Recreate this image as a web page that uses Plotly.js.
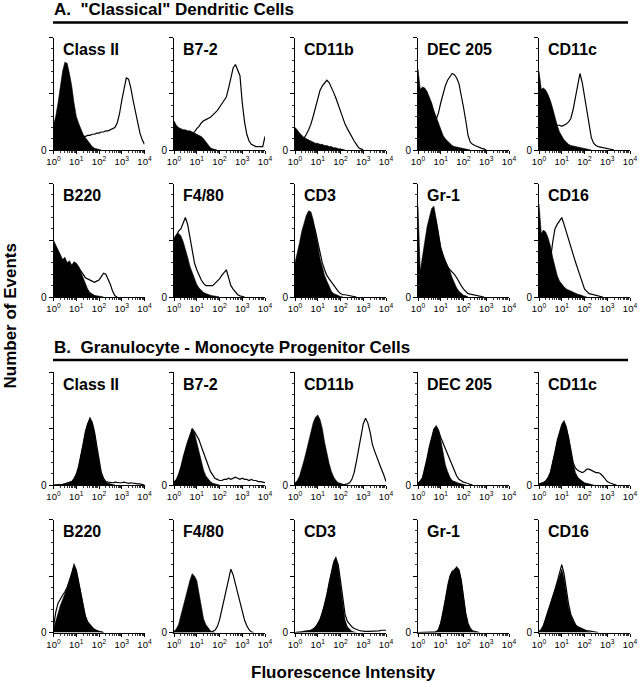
<!DOCTYPE html>
<html><head><meta charset="utf-8">
<script src="https://cdn.plot.ly/plotly-3.0.1.min.js"></script>
<style>html,body{margin:0;padding:0;background:#fff}#chart{width:639px;height:683px}</style>
</head><body><div id="chart"></div>
<script>
// log10 channel exponents (x positions of histogram points)
const exponents = [0,0.1,0.2,0.3,0.4,0.5,0.6,0.7,0.8,0.9,1.0,1.1,1.2,1.3,1.4,1.5,1.6,1.7,1.8,1.9,2.0,2.1,2.2,2.3,2.4,2.5,2.6,2.7,2.8,2.9,3.0,3.1,3.2,3.3,3.4,3.5,3.6,3.7,3.8,3.9,4.0];
const panelLabels = ["Class II","B7-2","CD11b","DEC 205","CD11c","B220","F4/80","CD3","Gr-1","CD16"];
const sectionTitles = ["A.\u00A0 \"Classical\" Dendritic Cells","B.\u00A0 Granulocyte - Monocyte Progenitor Cells"];
const xTickValues = [1,10,100,1000,10000];
const xTickLabels = ["10<sup>0</sup>","10<sup>1</sup>","10<sup>2</sup>","10<sup>3</sup>","10<sup>4</sup>"];
const xMinorTicks = [2,3,4,5,6,7,8,9,20,30,40,50,60,70,80,90,200,300,400,500,600,700,800,900,2000,3000,4000,5000,6000,7000,8000,9000];
const yTickValues = [0];
const yTickLabels = ["0"];
const yMajorUnlabelled = [50,100];
const yMinorTicks = [10,20,30,40,60,70,80,90];
const xAxisTitle = "Fluorescence Intensity";
const yAxisTitle = "Number of Events";

// A. "Classical" dendritic cells — filled = control, open = stained (% of axis height)
const dcClassIIFilled = [22,30,42,58,70,78,77,68,57,42,30,24,19,14,11,8,5,3,1.5,1,0.5,0];
const dcClassIIOpen   = [10,12,14,15,15,15,14,14,13,13,12,12,12,11,12,13,13,14,14,15,15,16,16,17,17,18,19,20,24,32,44,56,64,63,55,44,34,24,15,9,5];
const dcB72Filled = [26,22,20,19,18,18,17,17,16,15,14,13,12,10,7,4,2,1,0.5,0];
const dcB72Open   = [12,12,12,12,12,13,13,14,15,16,19,21,24,26,27,28,29,31,33,35,38,41,44,47,55,65,73,76,71,66,42,25,14,8,5,4,3,3,3,3,12];
const dcCD11bFilled = [20,18,15,13,11,10,9,8,7,6,6,5,5,4,4,3,3,2,2,1,1,0.5,0];
const dcCD11bOpen   = [3,4,5,7,10,14,18,23,30,38,46,53,57,60,62,60,56,51,46,40,34,28,23,19,15,11,8,5,2,1,0];
const dcDEC205Filled = [72,54,56,55,52,47,42,35,29,23,17,13,10,8,6,4,3,2.5,2,2,1.5,1,0.5,0];
const dcDEC205Open   = [5,5,6,7,9,12,16,21,27,33,42,50,57,62,65,68,67,64,59,50,38,26,13,7,5,4,3,2,1.5,1,0];
const dcCD11cFilled = [70,54,55,53,49,44,37,29,22,16,12,9,7,5,4,3.5,3,2.5,2,1.5,1,1,0.5,0];
const dcCD11cOpen   = [5,6,8,10,13,16,19,21,22,22,21,22,23,25,28,36,47,58,68,60,48,35,22,11,6,4,3,2.5,2,1.5,1,1,0.5,0];
const dcB220Filled = [50,46,42,38,33,35,30,32,28,31,30,27,22,16,11,7,4,2.5,1.5,1,1,0.5,0];
const dcB220Open   = [45,44,40,36,32,33,29,30,27,29,28,26,23,20,17,16,15,14,13,14,15,18,21,20,16,11,5,1,0];
const dcF480Filled = [52,55,56,54,49,43,35,27,21,16,11,8,6,4,3,2,1.5,1,1,0.5,0];
const dcF480Open   = [50,54,58,60,66,70,64,53,40,30,24,19,15,12,10,10,10,10,12,14,16,19,22,24,17,10,7,4,2,1,0.5,0];
const dcCD3Filled = [30,38,48,58,66,72,76,75,68,58,46,34,26,19,14,9,5,3,2,1,0.5,0];
const dcCD3Open   = [25,32,42,52,60,66,70,70,65,58,48,38,30,24,19,16,13,10,7,5,3,2,2,1.5,1,1,0.5,0];
const dcGr1Filled = [80,22,36,50,62,70,78,80,70,57,44,37,32,27,23,17,12,8,5,3,1.5,1,0];
const dcGr1Open   = [10,18,30,44,56,65,72,74,66,54,43,36,31,27,24,22,20,17,13,10,7,5,3,2.5,2,1.5,1,1,0.5,0];
const dcCD16Filled = [82,56,59,57,52,45,35,26,19,14,11,9,7,6,5,4,3,2.5,2,1,0.5,0];
const dcCD16Open   = [5,6,8,12,20,32,48,60,64,67,70,64,57,52,44,37,31,25,19,12,7,5,3,2.5,2,1.5,1,0.5,0];

// B. Granulocyte - monocyte progenitor cells
const gmClassIIFilled = [0,0,0,0,0.5,1,1.5,2,3,6,10,17,26,37,48,55,60,56,47,33,20,10,5,2.5,1.5,1,0.5,0];
const gmClassIIOpen   = [0,0,0,0,0.5,1,1.5,2,3,5,9,15,24,35,46,54,58,55,47,34,21,11,6,3,2.5,2,2,2.5,2,2,2,2.5,2,1.5,2,1.5,1.5,1,1,0.5,0];
const gmB72Filled = [3,5,10,16,25,33,39,44,49,46,38,30,21,13,8,5,3,1.5,1,0.5,0];
const gmB72Open   = [2,4,8,14,22,30,37,43,50,47,44,40,34,28,22,17,12,9,6,5,4,4,5,5,6,5,6,7,6,5,6,5,5,4,5,4,4,3,3,2.5,2];
const gmCD11bFilled = [2,4,8,14,22,30,38,47,55,60,62,58,50,38,28,19,12,7,4,2,1.5,0.5,0];
const gmCD11bOpen   = [0,0,0,0,0,0,0,0,0,0,0,0,0,0,0,0,0,0,0,0,0,0,0.5,1,2,5,11,21,33,45,54,59,55,47,36,30,24,19,14,9,3];
const gmDEC205Filled = [2,4,7,15,25,35,44,50,52,49,40,27,18,12,7,4,3,2,1.5,1,0.5,0];
const gmDEC205Open   = [1,3,6,13,22,32,42,49,52,48,42,37,33,28,23,17,12,8,5,3.5,2.5,2,1,0.5,0];
const gmCD11cFilled = [1,1.5,2.5,4,7,12,20,30,40,48,54,57,52,42,30,19,11,7,5,3.5,2,1.5,1,0.5,0];
const gmCD11cOpen   = [1,1.5,2,3.5,6,10,18,28,38,46,52,55,50,42,31,20,15,13,12,11,12,14,14,13,12,11,11,10,8,5,3,2,1,0.5,0];
const gmB220Filled = [3,10,18,24,29,34,40,45,53,61,56,46,37,24,15,10,7,5,3,1.5,1,0.5,0];
const gmB220Open   = [5,18,26,30,33,36,40,46,53,58,55,45,34,22,14,9,6,4,2.5,1.5,1,0.5,0];
const gmF480Filled = [1,3,7,15,24,32,39,46,52,50,46,34,22,12,7,4,1.5,0.5,0];
const gmF480Open   = [0.5,0.5,1,1,1,1,1,1,1,1,1,1,1,1,0.5,0.5,0.5,1,2,5,11,20,30,39,47,56,51,43,36,27,18,11,6,2.5,0.5,0];
const gmCD3Filled = [0,0,0.5,0.5,1,1,1.5,2,3,5,8,12,18,25,34,45,55,63,67,58,42,24,11,5,2.5,1,0.5,0];
const gmCD3Open   = [0,0,0.5,0.5,1,1,1.5,2,3,5,7,11,17,24,33,43,53,61,65,60,46,30,16,10,7,5,3.5,2.5,2,1.5,1,1,1,1,1,1,1.5,1.5,2,2,2];
const gmGr1Filled = [0,0,0,0,0,0,0,0,1,3,9,18,30,42,50,54,56,57,56,47,32,16,7,3,1,0.5,0];
const gmGr1Open   = [0,0,0,0,0,0,0,0,0.5,2,8,17,29,41,49,54,55,58,55,46,32,17,8,3.5,1.5,1,0.5,0];
const gmCD16Filled = [1,3,7,13,19,26,32,38,44,49,56,48,33,22,15,10,7,5,4,3,1.5,1,0.5,0];
const gmCD16Open   = [1,2,6,12,18,25,31,38,45,52,60,52,37,25,16,11,7,5,4,3,2,1.5,1.5,1,1,0.5,0];

const panels = [
  [dcClassIIFilled,dcClassIIOpen],[dcB72Filled,dcB72Open],[dcCD11bFilled,dcCD11bOpen],[dcDEC205Filled,dcDEC205Open],[dcCD11cFilled,dcCD11cOpen],
  [dcB220Filled,dcB220Open],[dcF480Filled,dcF480Open],[dcCD3Filled,dcCD3Open],[dcGr1Filled,dcGr1Open],[dcCD16Filled,dcCD16Open],
  [gmClassIIFilled,gmClassIIOpen],[gmB72Filled,gmB72Open],[gmCD11bFilled,gmCD11bOpen],[gmDEC205Filled,gmDEC205Open],[gmCD11cFilled,gmCD11cOpen],
  [gmB220Filled,gmB220Open],[gmF480Filled,gmF480Open],[gmCD3Filled,gmCD3Open],[gmGr1Filled,gmGr1Open],[gmCD16Filled,gmCD16Open]
];

const W = 639, H = 683;
const FONT = "Liberation Sans, Arial, Helvetica, sans-serif";
const fx = p => p / W;
const fy = p => 1 - p / H;
const colX = [53.5, 174, 295, 418, 539];
const colW = 91;
const rowY = [[37.5,150],[183.5,297],[372,485],[519.5,632.5]];

const traces = [];
const layout = {
  width: W, height: H, margin: {l:0,r:0,t:0,b:0},
  paper_bgcolor: '#fff', plot_bgcolor: 'rgba(0,0,0,0)',
  showlegend: false, font: {family: FONT, color: '#000'},
  annotations: [], shapes: []
};
const sfx = n => (n === 1 ? '' : String(n));

panels.forEach((pair, k) => {
  const r = Math.floor(k / 5), c = k % 5, n = k + 1, m = k + 21;
  const xa = 'x' + sfx(n), ya = 'y' + sfx(n), yo = 'y' + m;
  const [filled, open] = pair;
  traces.push({
    type: 'scatter', mode: 'lines', xaxis: xa, yaxis: ya, hoverinfo: 'skip',
    x: exponents.slice(0, filled.length).map(e => Math.pow(10, e)), y: filled,
    fill: 'tozeroy', fillcolor: '#000', line: {color: '#000', width: 0.6}
  });
  traces.push({
    type: 'scatter', mode: 'lines', xaxis: xa, yaxis: ya, hoverinfo: 'skip',
    x: exponents.slice(0, open.length).map(e => Math.pow(10, e)), y: open,
    line: {color: '#000', width: 1.2}
  });
  // empty trace so the overlay axis (unlabelled major ticks) is drawn
  traces.push({type: 'scatter', mode: 'lines', xaxis: xa, yaxis: yo, x: [], y: [], hoverinfo: 'skip'});
  layout['xaxis' + sfx(n)] = {
    type: 'log', range: [0, 4], domain: [fx(colX[c]), fx(colX[c] + colW)], anchor: ya,
    showline: true, linecolor: '#000', linewidth: 1, showgrid: false, zeroline: false,
    ticks: 'outside', ticklen: 3, tickwidth: 1, tickcolor: '#000',
    tickmode: 'array', tickvals: xTickValues, ticktext: xTickLabels,
    tickfont: {size: 9.5, family: FONT, color: '#000'},
    minor: {tickmode: 'array', tickvals: xMinorTicks, ticks: 'outside', ticklen: 2, tickwidth: 0.8, tickcolor: '#000', showgrid: false},
    fixedrange: true
  };
  layout['yaxis' + sfx(n)] = {
    range: [0, 100], domain: [fy(rowY[r][1]), fy(rowY[r][0])], anchor: xa,
    showline: true, linecolor: '#000', linewidth: 1, showgrid: false, zeroline: false,
    ticks: 'outside', ticklen: 4, tickwidth: 1, tickcolor: '#000',
    tickmode: 'array', tickvals: yTickValues, ticktext: yTickLabels,
    tickfont: {size: 10, family: FONT, color: '#000'},
    minor: {tickmode: 'array', tickvals: yMinorTicks, ticks: 'outside', ticklen: 2, tickwidth: 0.8, tickcolor: '#000', showgrid: false},
    fixedrange: true
  };
  layout['yaxis' + m] = {
    range: [0, 100], overlaying: ya, anchor: xa, side: 'left',
    showline: false, showgrid: false, zeroline: false, showticklabels: false,
    ticks: 'outside', ticklen: 4, tickwidth: 1, tickcolor: '#000',
    tickmode: 'array', tickvals: yMajorUnlabelled, fixedrange: true
  };
  layout.annotations.push({
    xref: 'paper', yref: 'paper', x: fx(colX[c] + 7), y: fy(rowY[r][0] + 12),
    xanchor: 'left', yanchor: 'middle', showarrow: false,
    text: '<b>' + panelLabels[k % 10] + '</b>', font: {size: 16, family: FONT, color: '#000'}
  });
});

// section titles and rules
[[9.5, 22.5], [347, 360]].forEach((pos, i) => {
  layout.annotations.push({
    xref: 'paper', yref: 'paper', x: fx(52), y: fy(pos[0]), xanchor: 'left', yanchor: 'middle',
    showarrow: false, text: '<b>' + sectionTitles[i] + '</b>', font: {size: 17, family: FONT, color: '#000'}
  });
  layout.shapes.push({type: 'line', xref: 'paper', yref: 'paper', x0: fx(53), x1: fx(628), y0: fy(pos[1]), y1: fy(pos[1]), line: {color: '#000', width: 2.5}});
});

layout.annotations.push({
  xref: 'paper', yref: 'paper', x: fx(343), y: fy(672), xanchor: 'center', yanchor: 'middle', showarrow: false,
  text: '<b>' + xAxisTitle + '</b>', font: {size: 17, family: FONT, color: '#000'}
});
layout.annotations.push({
  xref: 'paper', yref: 'paper', x: fx(9.5), y: fy(316), xanchor: 'center', yanchor: 'middle', showarrow: false, textangle: -90,
  text: '<b>' + yAxisTitle + '</b>', font: {size: 17, family: FONT, color: '#000'}
});

Plotly.newPlot('chart', traces, layout, {staticPlot: true, displayModeBar: false});
</script></body></html>
